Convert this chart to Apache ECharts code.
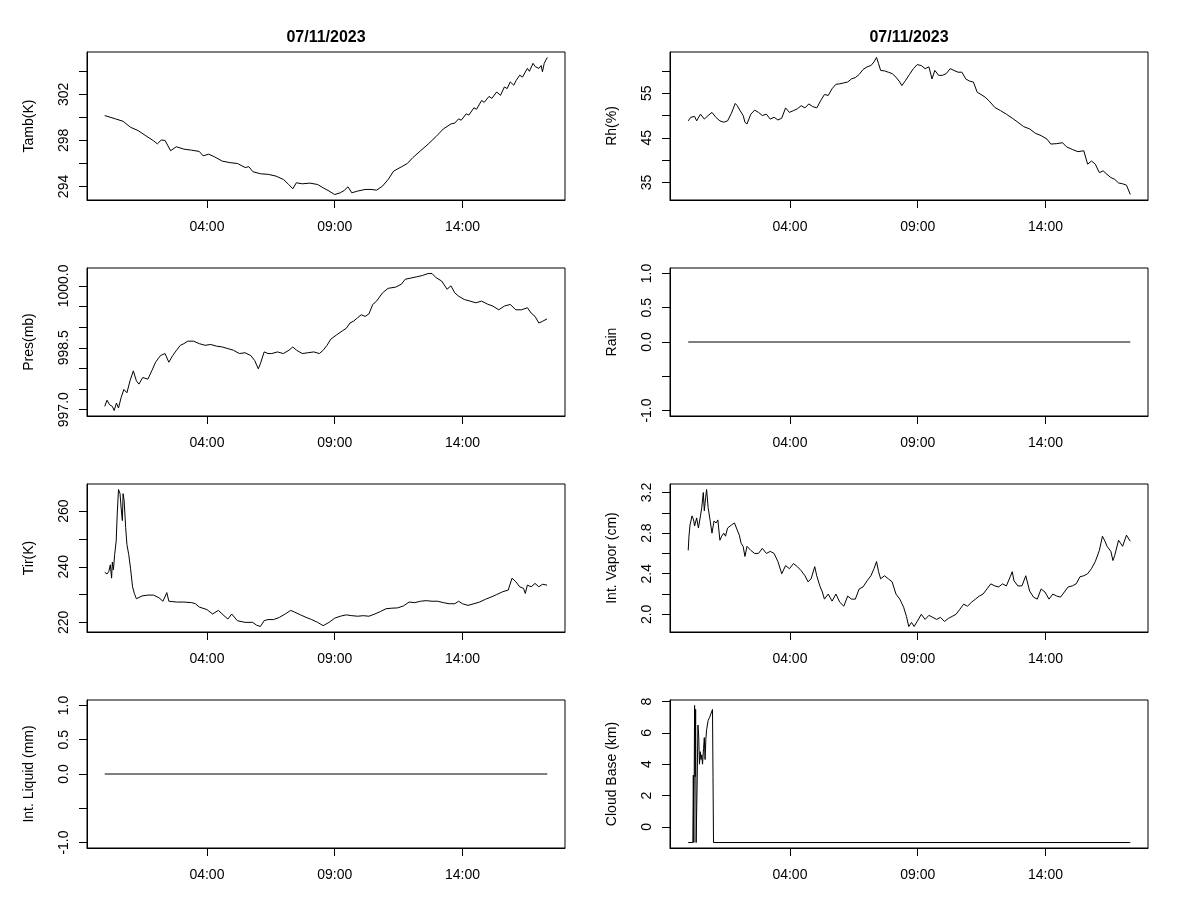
<!DOCTYPE html>
<html><head><meta charset="utf-8">
<script src="https://cdn.jsdelivr.net/npm/echarts@6/dist/echarts.min.js"></script>
<style>html,body{margin:0;padding:0;background:#fff}#c{width:1200px;height:900px}</style>
</head><body><div id="c"></div>
<script>
const dateLabel = '07/11/2023';
const timeRange = [0, 17.32];
const xTicks = [4, 9, 14];
const xTickLabels = ['04:00', '09:00', '14:00'];

const tamb = [[0,300.16],[0.42,299.87],[0.72,299.66],[1.01,299.14],[1.31,298.85],[1.61,298.4],[1.91,297.97],[2.06,297.7],[2.21,298.03],[2.36,298.0],[2.58,297.1],[2.8,297.45],[3.1,297.24],[3.4,297.15],[3.7,297.04],[3.85,296.66],[4.07,296.8],[4.3,296.57],[4.6,296.2],[4.9,296.07],[5.2,295.99],[5.5,295.64],[5.64,295.72],[5.8,295.28],[6.1,295.1],[6.4,295.05],[6.7,294.9],[7.0,294.6],[7.2,294.17],[7.36,293.8],[7.5,294.32],[7.73,294.23],[8.03,294.29],[8.33,294.17],[8.55,293.88],[8.78,293.6],[9.0,293.3],[9.22,293.45],[9.37,293.65],[9.52,293.97],[9.67,293.45],[9.9,293.6],[10.19,293.74],[10.42,293.74],[10.64,293.68],[10.87,294.03],[11.09,294.6],[11.31,295.34],[11.6,295.69],[11.84,295.99],[12.06,296.51],[12.36,297.1],[12.66,297.68],[12.96,298.32],[13.25,298.99],[13.55,299.43],[13.7,299.5],[13.85,299.87],[13.95,299.75],[14.15,300.31],[14.25,300.2],[14.45,300.83],[14.55,300.7],[14.75,301.47],[14.85,301.3],[15.04,301.82],[15.15,301.65],[15.34,302.2],[15.49,301.91],[15.64,302.64],[15.75,302.5],[15.87,303.08],[16.01,302.79],[16.1,303.2],[16.24,303.66],[16.35,303.5],[16.54,304.25],[16.62,304.0],[16.76,304.69],[16.85,304.4],[16.99,304.25],[17.08,304.5],[17.13,303.96],[17.2,304.69],[17.32,305.2]];

const rh = [[0.02,48.8],[0.12,49.6],[0.27,49.8],[0.35,48.8],[0.5,50.3],[0.65,49.2],[0.8,50.0],[0.95,50.7],[1.1,49.6],[1.26,48.8],[1.41,48.5],[1.56,48.8],[1.71,50.5],[1.86,52.7],[1.94,52.2],[2.05,51.1],[2.17,50.0],[2.24,48.5],[2.32,48.1],[2.47,50.3],[2.62,51.2],[2.77,50.7],[2.92,50.0],[3.08,50.3],[3.23,49.2],[3.38,49.6],[3.53,49.0],[3.68,49.4],[3.83,51.7],[3.98,50.7],[4.14,51.1],[4.29,51.5],[4.44,52.2],[4.59,51.7],[4.74,52.6],[4.89,52.0],[5.05,51.7],[5.2,53.3],[5.35,54.7],[5.5,54.5],[5.65,56.0],[5.8,57.0],[5.95,57.1],[6.1,57.3],[6.26,57.5],[6.41,58.2],[6.56,58.5],[6.71,59.2],[6.86,60.3],[7.02,60.9],[7.17,61.2],[7.29,62.0],[7.39,63.0],[7.47,61.6],[7.55,60.1],[7.7,60.0],[7.85,59.7],[8.0,59.4],[8.15,58.6],[8.3,57.5],[8.38,56.7],[8.53,57.9],[8.68,59.2],[8.83,60.5],[8.98,61.4],[9.14,61.2],[9.29,60.5],[9.44,60.9],[9.56,58.2],[9.67,60.1],[9.82,59.0],[9.97,59.0],[10.12,59.4],[10.27,60.5],[10.42,60.1],[10.58,59.7],[10.73,59.7],[10.88,58.2],[11.03,57.7],[11.18,57.5],[11.33,55.2],[11.48,54.7],[11.64,54.1],[11.79,53.3],[12.02,51.8],[12.24,51.1],[12.47,50.3],[12.7,49.4],[12.92,48.5],[13.15,47.5],[13.38,47.0],[13.61,46.0],[13.83,45.5],[14.06,44.7],[14.21,43.6],[14.44,43.7],[14.67,43.9],[14.82,43.0],[15.05,42.4],[15.27,41.9],[15.5,42.1],[15.65,39.1],[15.8,39.8],[15.95,39.1],[16.11,37.2],[16.26,37.6],[16.41,36.8],[16.56,36.1],[16.71,35.7],[16.86,34.9],[17.02,34.7],[17.17,34.4],[17.32,32.3]];

const pres = [[0,997.08],[0.09,997.23],[0.19,997.12],[0.3,997.08],[0.37,996.98],[0.46,997.16],[0.54,997.04],[0.64,997.29],[0.75,997.49],[0.87,997.41],[0.99,997.7],[1.12,997.94],[1.24,997.7],[1.34,997.62],[1.49,997.78],[1.69,997.74],[1.84,997.94],[1.99,998.15],[2.18,998.31],[2.36,998.36],[2.51,998.15],[2.66,998.31],[2.81,998.44],[2.96,998.56],[3.1,998.6],[3.25,998.66],[3.48,998.66],[3.7,998.6],[3.93,998.56],[4.15,998.58],[4.37,998.54],[4.6,998.52],[4.82,998.48],[5.04,998.44],[5.27,998.36],[5.49,998.38],[5.72,998.31],[5.87,998.19],[6.01,997.99],[6.09,998.11],[6.24,998.4],[6.39,998.36],[6.54,998.36],[6.76,998.4],[6.99,998.36],[7.21,998.44],[7.36,998.52],[7.51,998.44],[7.73,998.36],[7.96,998.38],[8.18,998.4],[8.4,998.36],[8.55,998.44],[8.7,998.56],[8.85,998.71],[9.07,998.81],[9.3,998.91],[9.45,998.97],[9.6,999.1],[9.75,999.15],[9.9,999.23],[10.04,999.3],[10.19,999.26],[10.34,999.32],[10.49,999.55],[10.64,999.63],[10.87,999.83],[11.09,999.94],[11.39,999.97],[11.61,1000.04],[11.76,1000.16],[11.99,1000.19],[12.21,1000.22],[12.43,1000.25],[12.66,1000.3],[12.81,1000.3],[12.96,1000.2],[13.18,1000.12],[13.4,999.92],[13.55,1000.0],[13.7,999.83],[13.85,999.75],[14.07,999.67],[14.3,999.63],[14.52,999.59],[14.75,999.63],[14.97,999.56],[15.19,999.51],[15.42,999.42],[15.64,999.51],[15.87,999.55],[16.09,999.42],[16.31,999.42],[16.54,999.47],[16.69,999.34],[16.84,999.26],[16.99,999.1],[17.13,999.14],[17.31,999.2]];

const rain = [[0.02,0],[17.32,0]];

const tir = [[0,238.0],[0.09,237.4],[0.16,238.3],[0.22,240.7],[0.27,235.9],[0.3,241.7],[0.34,238.9],[0.39,244.4],[0.45,249.3],[0.49,259.0],[0.54,267.8],[0.6,266.3],[0.64,261.5],[0.69,256.6],[0.72,266.3],[0.76,263.9],[0.82,254.1],[0.87,248.0],[0.94,244.4],[1.01,239.5],[1.09,232.8],[1.16,230.4],[1.24,228.5],[1.46,229.5],[1.69,229.8],[1.91,229.8],[2.13,228.8],[2.28,227.6],[2.43,230.7],[2.51,227.6],[2.81,227.3],[3.1,227.3],[3.4,227.1],[3.55,226.7],[3.7,225.5],[4.0,224.6],[4.22,223.0],[4.45,224.3],[4.67,222.4],[4.82,221.2],[4.97,223.0],[5.19,220.6],[5.49,220.0],[5.79,220.0],[5.94,219.0],[6.09,218.5],[6.24,220.6],[6.39,221.0],[6.61,221.0],[6.84,221.8],[7.06,223.0],[7.28,224.3],[7.43,223.7],[7.66,222.7],[7.88,221.8],[8.1,221.0],[8.33,220.0],[8.55,218.8],[8.78,220.0],[9.0,221.5],[9.22,222.2],[9.45,222.7],[9.67,222.4],[9.9,222.2],[10.12,222.4],[10.34,222.2],[10.57,223.0],[10.79,223.9],[11.01,224.9],[11.24,225.1],[11.46,225.2],[11.69,225.9],[11.91,227.3],[12.13,227.1],[12.36,227.6],[12.58,227.8],[12.81,227.6],[13.03,227.6],[13.25,227.1],[13.48,226.7],[13.7,226.7],[13.85,227.6],[14.0,226.7],[14.22,226.1],[14.45,226.7],[14.67,227.3],[14.9,228.3],[15.12,229.1],[15.34,230.0],[15.57,231.0],[15.79,231.6],[15.94,235.9],[16.09,234.6],[16.24,232.8],[16.39,232.2],[16.46,230.4],[16.54,233.4],[16.69,232.8],[16.84,234.0],[16.99,232.8],[17.13,233.7],[17.31,233.4]];

const vapor = [[0.02,2.63],[0.05,2.77],[0.09,2.88],[0.17,2.97],[0.23,2.93],[0.27,2.87],[0.35,2.95],[0.42,2.85],[0.5,2.97],[0.55,3.05],[0.61,3.2],[0.65,3.02],[0.7,3.15],[0.74,3.23],[0.8,3.05],[0.88,2.92],[0.95,2.8],[1.03,2.92],[1.11,2.9],[1.18,2.93],[1.26,2.73],[1.33,2.77],[1.41,2.8],[1.48,2.77],[1.56,2.85],[1.71,2.88],[1.83,2.9],[1.94,2.83],[2.02,2.78],[2.09,2.7],[2.17,2.67],[2.24,2.57],[2.32,2.67],[2.47,2.63],[2.62,2.6],[2.77,2.6],[2.92,2.65],[3.08,2.6],[3.23,2.62],[3.38,2.6],[3.53,2.52],[3.68,2.4],[3.83,2.48],[3.98,2.45],[4.14,2.5],[4.29,2.47],[4.44,2.43],[4.59,2.38],[4.71,2.32],[4.83,2.35],[4.97,2.47],[5.05,2.38],[5.17,2.28],[5.27,2.22],[5.35,2.15],[5.5,2.2],[5.65,2.13],[5.8,2.2],[5.95,2.12],[6.11,2.08],[6.26,2.18],[6.41,2.15],[6.56,2.15],[6.71,2.25],[6.86,2.27],[7.02,2.33],[7.17,2.38],[7.29,2.45],[7.39,2.52],[7.47,2.42],[7.55,2.35],[7.7,2.38],[7.85,2.35],[8.0,2.32],[8.15,2.2],[8.3,2.15],[8.45,2.07],[8.56,1.98],[8.65,1.88],[8.76,1.92],[8.86,1.88],[8.98,1.93],[9.14,2.0],[9.29,1.95],[9.44,1.99],[9.59,1.97],[9.74,1.95],[9.89,1.97],[10.05,1.93],[10.2,1.96],[10.35,1.98],[10.5,2.0],[10.65,2.05],[10.8,2.1],[10.95,2.08],[11.11,2.12],[11.26,2.15],[11.41,2.18],[11.56,2.2],[11.71,2.25],[11.86,2.3],[12.02,2.28],[12.17,2.27],[12.32,2.3],[12.47,2.28],[12.62,2.37],[12.7,2.42],[12.77,2.33],[12.92,2.28],[13.08,2.28],[13.23,2.38],[13.38,2.23],[13.53,2.17],[13.68,2.15],[13.83,2.25],[13.98,2.22],[14.14,2.15],[14.29,2.2],[14.44,2.18],[14.59,2.17],[14.74,2.22],[14.89,2.27],[15.05,2.28],[15.2,2.3],[15.35,2.37],[15.5,2.38],[15.65,2.4],[15.8,2.45],[15.95,2.52],[16.11,2.63],[16.23,2.77],[16.33,2.72],[16.41,2.67],[16.56,2.62],[16.64,2.53],[16.71,2.58],[16.86,2.73],[17.02,2.67],[17.17,2.78],[17.32,2.72]];

const liquid = [[0,0],[17.32,0]];

const cloud = [[0.02,-1],[0.2,-1],[0.22,3.3],[0.24,-1],[0.26,-1],[0.27,7.75],[0.29,3.2],[0.31,7.5],[0.33,-1],[0.35,-1],[0.37,2.8],[0.4,6.5],[0.43,5.8],[0.46,4.0],[0.49,4.8],[0.52,4.3],[0.55,4.6],[0.58,4.0],[0.62,5.0],[0.65,5.7],[0.68,4.3],[0.71,5.6],[0.74,6.2],[0.8,6.8],[0.86,7.0],[0.92,7.1],[0.97,7.5],[0.99,3.2],[1.01,-1],[17.32,-1]];

const panels = [
  {name: 'Tamb(K)', data: tamb, ticks: [294,296,298,300,302,304], labels: [294,298,302], dec: 0},
  {name: 'Rh(%)', data: rh, ticks: [35,40,45,50,55,60], labels: [35,45,55], dec: 0},
  {name: 'Pres(mb)', data: pres, ticks: [997,997.5,998,998.5,999,999.5,1000], labels: [997,998.5,1000], dec: 1},
  {name: 'Rain', data: rain, ticks: [-1,-0.5,0,0.5,1], labels: [-1,0,0.5,1], dec: 1},
  {name: 'Tir(K)', data: tir, ticks: [220,230,240,250,260], labels: [220,240,260], dec: 0},
  {name: 'Int. Vapor (cm)', data: vapor, ticks: [2.0,2.2,2.4,2.6,2.8,3.0,3.2], labels: [2.0,2.4,2.8,3.2], dec: 1},
  {name: 'Int. Liquid (mm)', data: liquid, ticks: [-1,-0.5,0,0.5,1], labels: [-1,0,0.5,1], dec: 1},
  {name: 'Cloud Base (km)', data: cloud, ticks: [0,2,4,6,8], labels: [0,2,4,6,8], dec: 0}
];

const FONT = '"Liberation Sans", Arial, Helvetica, sans-serif';
const colLeft = [87, 670];
const rowTop = [52, 268, 484, 700];
const boxW = 478, boxH = 148;

function padRange(lo, hi) {
  if (lo === hi) { lo -= 1; hi += 1; }
  const d = (hi - lo) * 0.04;
  return [lo - d, hi + d];
}
const xr = padRange(timeRange[0], timeRange[1]);

const grids = [], xAxes = [], yAxes = [], series = [];
panels.forEach((p, i) => {
  const col = i % 2, row = Math.floor(i / 2);
  grids.push({left: colLeft[col], top: rowTop[row], width: boxW, height: boxH,
    show: true, borderColor: '#000', borderWidth: 1, containLabel: false});
  xAxes.push({type: 'value', gridIndex: i, min: xr[0], max: xr[1], position: 'bottom',
    axisLine: {show: true, onZero: false, lineStyle: {color: '#000', width: 1}},
    axisTick: {show: true, length: 8, customValues: xTicks, lineStyle: {color: '#000'}},
    axisLabel: {customValues: xTicks, margin: 20, color: '#000', fontSize: 14, fontFamily: FONT,
      formatter: v => xTickLabels[xTicks.indexOf(v)]},
    splitLine: {show: false}});
  const vals = p.data.map(d => d[1]);
  const yr = padRange(Math.min(...vals), Math.max(...vals));
  yAxes.push({type: 'value', gridIndex: i, min: yr[0], max: yr[1], position: 'left',
    name: p.name, nameLocation: 'middle', nameGap: 51,
    nameTextStyle: {fontSize: 14, color: '#000', fontFamily: FONT},
    axisLine: {show: true, onZero: false, lineStyle: {color: '#000', width: 1}},
    axisTick: {show: true, length: 8, customValues: p.ticks, lineStyle: {color: '#000'}},
    axisLabel: {customValues: p.labels, rotate: 90, margin: 16, color: '#000', fontSize: 14, fontFamily: FONT,
      formatter: v => Number(v).toFixed(p.dec)},
    splitLine: {show: false}});
  series.push({type: 'line', xAxisIndex: i, yAxisIndex: i, data: p.data,
    symbol: 'none', showSymbol: false, lineStyle: {color: '#000', width: 1}, animation: false});
});

const chart = echarts.init(document.getElementById('c'), null, {renderer: 'canvas'});
chart.setOption({
  backgroundColor: '#fff',
  animation: false,
  graphic: colLeft.map(l => ({type: 'text', x: l + boxW / 2, y: 38,
    style: {text: dateLabel, align: 'center', verticalAlign: 'middle', fill: '#000',
      font: 'bold 16px ' + FONT}})),
  grid: grids, xAxis: xAxes, yAxis: yAxes, series: series
});
</script></body></html>
